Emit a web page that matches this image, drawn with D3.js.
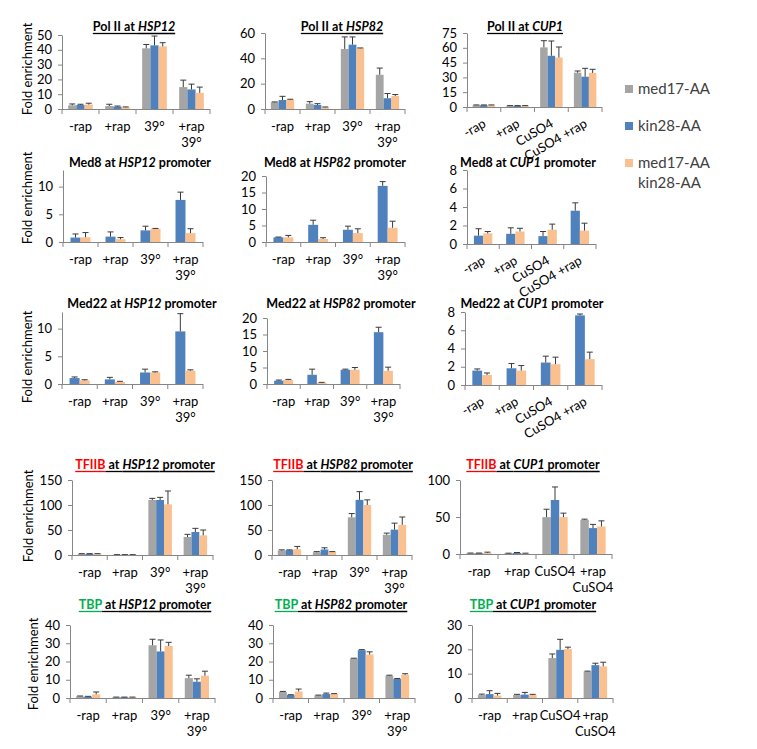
<!DOCTYPE html>
<html>
<head>
<meta charset="utf-8">
<script src="https://cdn.jsdelivr.net/npm/d3@7"></script>
<style>
  body { margin: 0; background: #fff; }
  svg { font-family: Lato, "Open Sans", sans-serif; }
</style>
</head>
<body>
<svg id="chart" width="757" height="749"></svg>
<script>
// series shown in every panel
const seriesNames = [["med17-AA"], ["kin28-AA"], ["med17-AA", "kin28-AA"]];
const seriesColors = ["#a5a5a5", "#4f81bd", "#fac090"];

// category labels
const hspLabels = [["-rap"], ["+rap"], ["39°"], ["+rap", "39°"]];
const cupLabels = [["-rap"], ["+rap"], ["CuSO4"], ["+rap", "CuSO4"]];
const cupLabelsTilted = ["-rap", "+rap", "CuSO4", "CuSO4 +rap"];

// values: one row per series (med17-AA, kin28-AA, med17-AA kin28-AA), null = not shown
const polHsp12 = [[2.5, 2.0, 41.0, 14.8], [2.7, 1.6, 43.0, 13.2], [3.0, 1.1, 42.3, 10.9]];
const polHsp12Err = [[0.9, 1.2, 2.6, 4.7], [0.5, 0.4, 6.3, 3.6], [0.9, 0.3, 2.5, 3.9]];
const polHsp82 = [[5.3, 4.2, 47.4, 27.0], [7.1, 3.2, 50.8, 8.5], [7.4, 1.3, 47.9, 10.3]];
const polHsp82Err = [[0.3, 1.6, 9.5, 5.3], [2.9, 1.0, 6.1, 3.7], [0.3, 0.3, 0.3, 1.1]];
const polCup1 = [[1.8, 1.2, 60.4, 34.8], [1.8, 1.2, 51.9, 30.7], [1.8, 1.2, 50.2, 34.5]];
const polCup1Err = [[0.3, 0.2, 6.8, 1.7], [0.3, 0.2, 15.0, 8.5], [0.3, 0.2, 10.6, 3.7]];

const med8Hsp12 = [null, [0.8, 0.97, 2.1, 7.6], [0.85, 0.5, 2.4, 1.6]];
const med8Hsp12Err = [null, [0.65, 0.85, 0.75, 1.4], [0.85, 0.3, 0.05, 0.8]];
const med8Hsp82 = [null, [1.4, 5.2, 3.7, 17.0], [1.4, 0.9, 2.7, 4.3]];
const med8Hsp82Err = [null, [0.1, 1.4, 1.1, 1.3], [0.6, 0.4, 1.3, 2.0]];
const med8Cup1 = [null, [0.9, 1.1, 0.85, 3.6], [1.15, 1.35, 1.55, 1.45]];
const med8Cup1Err = [null, [0.75, 0.65, 0.5, 0.85], [0.2, 0.35, 0.6, 0.8]];

const med22Hsp12 = [null, [1.07, 0.83, 2.08, 9.5], [0.65, 0.36, 2.08, 2.4]];
const med22Hsp12Err = [null, [0.2, 0.37, 0.6, 3.2], [0.12, 0.12, 0.12, 0.16]];
const med22Hsp82 = [null, [1.0, 2.8, 4.3, 15.7], [1.2, 0.4, 4.3, 4.0]];
const med22Hsp82Err = [null, [0.2, 1.7, 0.2, 1.5], [0.2, 0.1, 0.7, 1.1]];
const med22Cup1 = [null, [1.58, 1.83, 2.46, 7.63], [1.1, 1.58, 2.28, 2.83]];
const med22Cup1Err = [null, [0.18, 0.52, 0.7, 0.15], [0.22, 0.55, 0.77, 0.77]];

const tfHsp12 = [[2.2, 0.5, 110, 36], [2.2, 0.5, 110, 46], [2.2, 0.5, 101.3, 39.3]];
const tfHsp12Err = [[0.5, 0.2, 3.3, 5.3], [0.5, 0.2, 5.3, 7.3], [0.5, 0.2, 26.7, 10.7]];
const tfHsp82 = [[8.9, 5.5, 75.3, 40.4], [9.6, 11.0, 110.3, 50.7], [11.6, 6.2, 100, 60.3]];
const tfHsp82Err = [[1.4, 1.3, 7.6, 3.4], [0.7, 3.4, 16.4, 13.0], [5.5, 0.6, 10.3, 15.7]];
const tfCup1 = [[1.0, 0.8, 49.8, 46.2], [1.0, 1.5, 73.0, 35.0], [1.5, 0.8, 49.8, 37.2]];
const tfCup1Err = [[0.3, 0.3, 10.7, 0.9], [0.3, 0.5, 17.6, 5.0], [1.0, 0.3, 5.4, 7.6]];

const tbpHsp12 = [[0.9, 0.4, 28.9, 10.9], [0.7, 0.4, 25.5, 8.9], [2.0, 0.4, 28.5, 12.2]];
const tbpHsp12Err = [[0.2, 0.1, 3.3, 1.6], [0.2, 0.1, 6.3, 1.6], [1.3, 0.1, 2.0, 2.5]];
const tbpHsp82 = [[3.3, 1.45, 21.6, 12.2], [1.6, 2.2, 26.2, 10.4], [3.6, 2.2, 23.8, 12.7]];
const tbpHsp82Err = [[0.3, 0.15, 0.2, 0.3], [0.2, 0.5, 0.3, 0.3], [1.3, 0.2, 1.5, 0.6]];
const tbpCup1 = [[1.2, 1.2, 16.4, 10.9], [1.6, 1.4, 19.8, 13.5], [1.0, 1.2, 20.1, 13.0]];
const tbpCup1Err = [[0.4, 0.3, 1.7, 0.15], [1.4, 0.9, 4.3, 0.8], [0.9, 0.3, 0.8, 1.7]];

// y axis tick labels
const ticksPolHsp12 = [0, 10, 20, 30, 40, 50];
const ticksPolHsp82 = [0, 20, 40, 60];
const ticksPolCup1 = [0, 15, 30, 45, 60, 75];
const ticksMedHsp12 = [0, 5, 10];
const ticksMedHsp82 = [0, 5, 10, 15, 20];
const ticksMedCup1 = [0, 2, 4, 6, 8];
const ticksTfHsp = [0, 50, 100, 150];
const ticksTfCup1 = [0, 50, 100];
const ticksTbpHsp = [0, 10, 20, 30, 40];
const ticksTbpCup1 = [0, 10, 20, 30];

const RED = "#ff0000", GREEN = "#00b050";

function title(factor, gene, promoter, color) {
    const parts = [{ t: factor, c: color || "#000" }, { t: " at " }, { t: gene, i: true }];
    if (promoter) parts.push({ t: " promoter" });
    return parts;
}

const panels = [
    { title: title("Pol II", "HSP12"), line: true, v: polHsp12, e: polHsp12Err, ticks: ticksPolHsp12, max: 50, cats: hspLabels },
    { title: title("Pol II", "HSP82"), line: true, v: polHsp82, e: polHsp82Err, ticks: ticksPolHsp82, max: 60, cats: hspLabels },
    { title: title("Pol II", "CUP1"), line: true, v: polCup1, e: polCup1Err, ticks: ticksPolCup1, max: 75, tilted: cupLabelsTilted },
    { title: title("Med8", "HSP12", true), v: med8Hsp12, e: med8Hsp12Err, ticks: ticksMedHsp12, max: 13, cats: hspLabels },
    { title: title("Med8", "HSP82", true), v: med8Hsp82, e: med8Hsp82Err, ticks: ticksMedHsp82, max: 20, cats: hspLabels },
    { title: title("Med8", "CUP1", true), v: med8Cup1, e: med8Cup1Err, ticks: ticksMedCup1, max: 8, tilted: cupLabelsTilted },
    { title: title("Med22", "HSP12", true), v: med22Hsp12, e: med22Hsp12Err, ticks: ticksMedHsp12, max: 13, cats: hspLabels },
    { title: title("Med22", "HSP82", true), v: med22Hsp82, e: med22Hsp82Err, ticks: ticksMedHsp82, max: 20, cats: hspLabels },
    { title: title("Med22", "CUP1", true), v: med22Cup1, e: med22Cup1Err, ticks: ticksMedCup1, max: 8, tilted: cupLabelsTilted },
    { title: title("TFIIB", "HSP12", true, RED), line: true, v: tfHsp12, e: tfHsp12Err, ticks: ticksTfHsp, max: 150, cats: hspLabels },
    { title: title("TFIIB", "HSP82", true, RED), line: true, v: tfHsp82, e: tfHsp82Err, ticks: ticksTfHsp, max: 150, cats: hspLabels },
    { title: title("TFIIB", "CUP1", true, RED), line: true, v: tfCup1, e: tfCup1Err, ticks: ticksTfCup1, max: 100, cats: cupLabels },
    { title: title("TBP", "HSP12", true, GREEN), line: true, v: tbpHsp12, e: tbpHsp12Err, ticks: ticksTbpHsp, max: 40, cats: hspLabels },
    { title: title("TBP", "HSP82", true, GREEN), line: true, v: tbpHsp82, e: tbpHsp82Err, ticks: ticksTbpHsp, max: 40, cats: hspLabels },
    { title: title("TBP", "CUP1", true, GREEN), line: true, v: tbpCup1, e: tbpCup1Err, ticks: ticksTbpCup1, max: 30, cats: cupLabels }
];

// plot boxes on the page: x0, x1, top, base, title centre, title baseline
const boxes = [
    [62, 210, 35, 109, 134, 31], [265, 405, 33, 109, 342, 31], [467, 602, 33, 107, 525, 31],
    [63, 203, 170, 242, 140, 167], [266, 405, 176, 242, 335, 167], [467, 596, 170, 244, 528, 167],
    [62, 203, 312, 384, 142, 308], [267, 400, 318, 384, 341, 308], [465, 602, 312, 385, 532, 308],
    [72, 213, 480, 555, 145, 469], [272, 412, 480, 555, 343, 469], [460, 612, 480, 554, 533, 469],
    [70, 215, 625, 698, 145, 609], [273, 415, 625, 698, 341, 609], [472, 613, 625, 698, 533, 609]
];
const yLabelPos = [[27, 69], [27, 198], [27, 357], [28, 516], [33, 664]];

const svg = d3.select("#chart");
const axisColor = "#868686";

panels.forEach((p, i) => drawPanel(p, boxes[i]));
yLabelPos.forEach(([x, y]) => {
    svg.append("text")
        .attr("transform", `translate(${x},${y}) rotate(-90)`)
        .attr("text-anchor", "middle")
        .attr("dy", "0.35em")
        .attr("font-size", 13)
        .text("Fold enrichment");
});
drawLegend();

function drawPanel(p, b) {
    const [x0, x1, top, base, tx, ty] = b;
    const g = svg.append("g");
    const cats = d3.range(p.v.find(s => s).length);

    const x = d3.scaleBand().domain(cats).range([x0, x1]);
    const y = d3.scaleLinear().domain([0, p.max]).range([base, top]);

    // series that exist in this panel, centred in each category
    const active = d3.range(3).filter(s => p.v[s]);
    const inner = d3.scaleBand().domain(active).range([0, x.bandwidth()]).paddingOuter(0.75);

    const rows = [];
    active.forEach(s => cats.forEach(c => rows.push({ s, c, v: p.v[s][c], e: p.e[s][c] })));

    g.selectAll("rect.bar").data(rows).join("rect")
        .attr("x", d => x(d.c) + inner(d.s))
        .attr("width", inner.bandwidth())
        .attr("y", d => y(d.v))
        .attr("height", d => y(0) - y(d.v))
        .attr("fill", d => seriesColors[d.s]);

    // error bars, upper side only
    const cx = d => x(d.c) + inner(d.s) + inner.bandwidth() / 2;
    g.selectAll("path.err").data(rows).join("path")
        .attr("d", d => `M${cx(d)},${y(d.v)}V${y(d.v + d.e)}M${cx(d) - 3},${y(d.v + d.e)}H${cx(d) + 3}`)
        .attr("stroke", "#3a3a3a")
        .attr("stroke-width", 1)
        .attr("fill", "none");

    // y axis
    const ya = g.append("g").attr("transform", `translate(${x0},0)`)
        .call(d3.axisLeft(y).tickValues(p.ticks).tickSize(4).tickSizeOuter(0).tickPadding(6));
    ya.select(".domain").attr("stroke", axisColor);
    ya.selectAll(".tick line").attr("stroke", axisColor);
    ya.selectAll(".tick text").attr("font-size", 13).attr("fill", "#000").attr("font-family", "Lato");

    // x axis line and ticks at category boundaries
    g.append("line").attr("x1", x0).attr("x2", x1).attr("y1", base + 0.5).attr("y2", base + 0.5)
        .attr("stroke", axisColor);
    g.selectAll("line.xt").data(cats.map(c => x(c)).concat([x1])).join("line")
        .attr("x1", d => d).attr("x2", d => d)
        .attr("y1", base).attr("y2", base + 5)
        .attr("stroke", axisColor);

    // category labels
    if (p.tilted) {
        g.selectAll("text.cat").data(p.tilted).join("text")
            .attr("transform", (d, c) => `translate(${x(c) + x.bandwidth() / 2 + 3},${base + 19}) rotate(-30)`)
            .attr("text-anchor", "end")
            .attr("font-size", 13)
            .text(d => d);
    } else {
        const t = g.selectAll("text.cat").data(p.cats).join("text")
            .attr("text-anchor", "middle")
            .attr("font-size", 13)
            .attr("y", base + 22);
        t.each(function(lines, c) {
            lines.forEach((ln, k) => {
                d3.select(this).append("tspan")
                    .attr("x", x(c) + x.bandwidth() / 2)
                    .attr("dy", k ? 16 : 0)
                    .text(ln);
            });
        });
    }

    // title
    const tt = g.append("text")
        .attr("x", tx).attr("y", ty)
        .attr("text-anchor", "middle")
        .attr("font-size", 12.5)
        .attr("font-weight", "bold")
        .style("white-space", "pre");
    const spans = p.title.map(part => tt.append("tspan")
        .attr("fill", part.c || "#000")
        .attr("font-style", part.i ? "italic" : "normal")
        .text(part.t));
    if (p.line) {
        let sx = tx - tt.node().getComputedTextLength() / 2;
        spans.forEach((sp, k) => {
            const w = sp.node().getComputedTextLength();
            g.append("line")
                .attr("x1", sx).attr("x2", sx + w)
                .attr("y1", ty + 2.5).attr("y2", ty + 2.5)
                .attr("stroke", p.title[k].c || "#000")
                .attr("stroke-width", 1.3);
            sx += w;
        });
    }
}

function drawLegend() {
    const ly = d3.scalePoint().domain(d3.range(3)).range([89, 163]);
    const lg = svg.append("g");
    seriesNames.forEach((lines, s) => {
        lg.append("rect")
            .attr("x", 625).attr("y", ly(s) - 4)
            .attr("width", 8).attr("height", 8)
            .attr("fill", seriesColors[s]);
        lines.forEach((ln, k) => {
            lg.append("text")
                .attr("x", 638).attr("y", ly(s) + k * 20)
                .attr("dy", "0.35em")
                .attr("font-size", 15)
                .attr("fill", "#404040")
                .text(ln);
        });
    });
}
</script>
</body>
</html>
